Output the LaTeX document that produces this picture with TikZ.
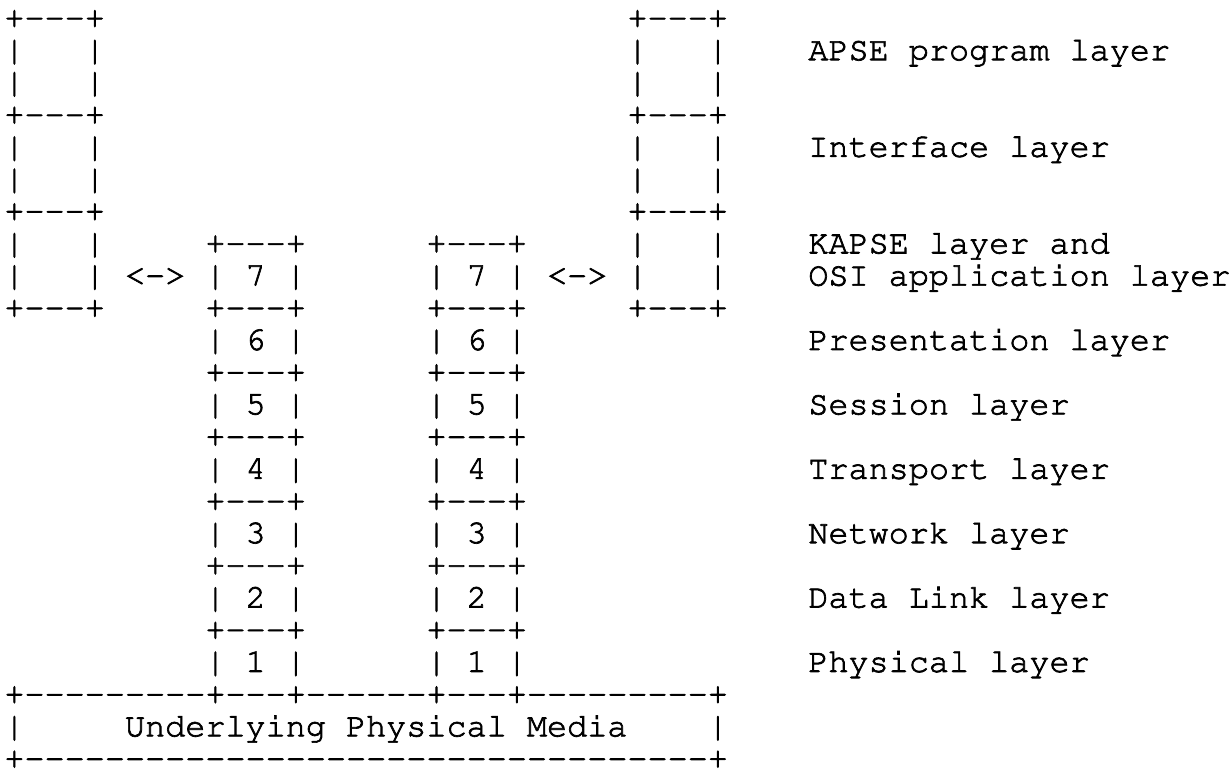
\documentclass[tikz,border=0pt]{standalone}
\usepackage[T1]{fontenc}
\usepackage{courier}
\usepackage{tikz}

\newcommand{\dashes}[1]{\foreach \k in {1,...,#1}{-}}
\newcommand{\edge}{+\dashes{3}+}
\newcommand{\side}{|~~~|}
% typewriter ink: fill and stroke the glyphs
\newcommand{\ink}{\special{pdf:literal direct 2 Tr 0.35 w}}

\begin{document}
\begin{tikzpicture}[x=10.05pt, y=-16.1pt, every node/.style={font=\ttfamily\fontsize{16.75}{20}\selectfont\ink,
                                  inner sep=0pt,
                                  anchor=base west}]

                      \useasboundingbox (-0.199,-0.87) rectangle (61,23.14);

                      % upper stacks
                      \foreach \r in {0,3,6,9} {
                              \node (lc\r) at (0,\r) {\edge};
                              \node (rc\r) at (31,\r) {\edge};
                          }
                      \foreach \r in {1,2,4,5,7,8} {
                              \node (ls\r) at (0,\r) {\side};
                              \node (rs\r) at (31,\r) {\side};
                          }

                      \node (la) at (6,8) {<->};
                      \node (ra) at (27,8) {<->};

                      % the two OSI stacks
                      \foreach \r in {7,9,...,19} {
                              \node (a\r) at (10,\r) {\edge};
                              \node (b\r) at (21,\r) {\edge};
                          }
                      \foreach \n [evaluate=\n as \r using int(22-2*\n)] in {1,...,7} {
                              \node (an\n) at (10,\r) {|~\n~|};
                              \node (bn\n) at (21,\r) {|~\n~|};
                          }

                      % media
                      \node (mt) at (0,21) {+\dashes{9}+\dashes{3}+\dashes{6}+\dashes{3}+\dashes{9}+};
                      \node (ml) at (0,22) {|};
                      \node (media) at (6,22) {Underlying Physical Media};
                      \node (mr) at (35,22) {|};
                      \node (mb) at (0,23) {+\dashes{34}+};

                      % layer names
                      \foreach \r/\t in {1/APSE program layer, 4/Interface layer,
                                         7/KAPSE layer and, 8/OSI application layer,
                                         10/Presentation layer, 12/Session layer,
                                         14/Transport layer, 16/Network layer,
                                         18/Data Link layer, 20/Physical layer} {
                              \node (lab\r) at (40,\r) {\t};
                          }
                  \end{tikzpicture}
\end{document}
